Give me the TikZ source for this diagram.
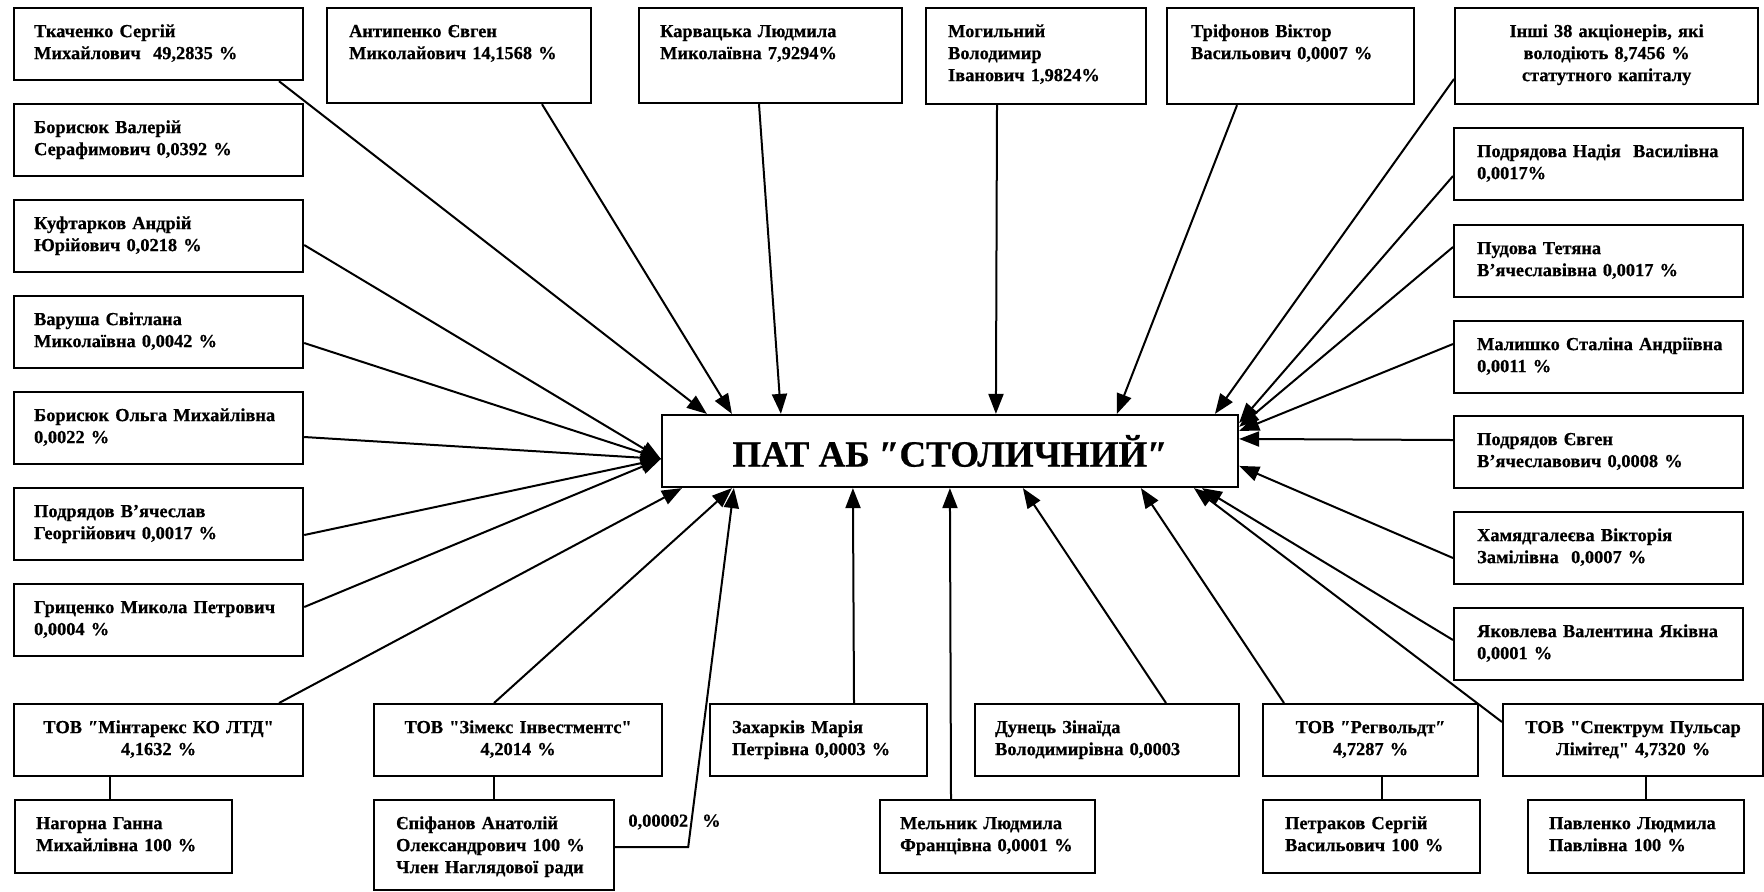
\documentclass[tikz,border=0pt]{standalone}
\usepackage{fontspec}
\setmainfont{Liberation Serif}[Ligatures=TeXOff, BoldFeatures={FakeBold=0.6}]
\usetikzlibrary{arrows.meta,calc}
\tikzset{
  bx/.style={draw, line width=1.1pt, inner xsep=0pt, inner ysep=0pt, anchor=north west,
    font=\bfseries\fontsize{9.2pt}{11pt}\selectfont},
  arr/.style={line width=1pt, -{Triangle[length=10pt,width=7.5pt]}},
  ln/.style={line width=1pt}
}
\newcommand\mybox[8]{%
  \pgfmathsetmacro\mbW{#4/2}%
  \pgfmathsetmacro\mbT{(#4-2*#6)/2}%
  \pgfmathsetmacro\mbD{(#5-29)/2}%
  \node[bx, align=#7, minimum width=\mbW pt, text width=\mbT pt, text height=14.5pt, text depth=\mbD pt] (#1) at (#2,#3) {#8};}
\begin{document}
\begin{tikzpicture}[x=0.5pt,y=-0.5pt]
\useasboundingbox (0,0) rectangle (1764,891);
\fill[white] (0,0) rectangle (1764,891);
% left column
\mybox{tk}{13}{7}{289}{72}{20}{left}{Ткаченко~Сергій\\Михайлович~~49,2835~\%}
\mybox{bv}{13}{103}{289}{72}{20}{left}{Борисюк~Валерій\\Серафимович~0,0392~\%}
\mybox{ku}{13}{199}{289}{72}{20}{left}{Куфтарков~Андрій\\Юрійович~0,0218~\%}
\mybox{va}{13}{295}{289}{72}{20}{left}{Варуша~Світлана\\Миколаївна~0,0042~\%}
\mybox{bo}{13}{391}{289}{72}{20}{left}{Борисюк~Ольга~Михайлівна\\0,0022~\%}
\mybox{pv}{13}{487}{289}{72}{20}{left}{Подрядов~В’ячеслав\\Георгійович~0,0017~\%}
\mybox{gr}{13}{583}{289}{72}{20}{left}{Гриценко~Микола~Петрович\\0,0004~\%}
% top row
\mybox{an}{326}{7}{264}{95}{22}{left}{Антипенко~Євген\\Миколайович~14,1568~\%}
\mybox{ka}{638}{7}{263}{95}{21}{left}{Карвацька~Людмила\\Миколаївна~7,9294\%}
\mybox{mo}{925}{7}{220}{96}{22}{left}{Могильний\\Володимир\\Іванович~1,9824\%}
\mybox{tr}{1166}{7}{247}{96}{24}{left}{Тріфонов~Віктор\\Васильович~0,0007~\%}
\mybox{in}{1454}{7}{303}{96}{8}{center}{Інші~38~акціонерів,~які\\володіють~8,7456~\%\\статутного~капіталу}
% right column
\mybox{pn}{1453}{127}{289}{72}{23}{left}{Подрядова~Надія~~Василівна\\0,0017\%}
\mybox{pu}{1453}{224}{289}{72}{23}{left}{Пудова~Тетяна\\В’ячеславівна~0,0017~\%}
\mybox{ma}{1453}{320}{289}{72}{23}{left}{Малишко~Сталіна~Андріївна\\0,0011~\%}
\mybox{pj}{1453}{415}{289}{72}{23}{left}{Подрядов~Євген\\В’ячеславович~0,0008~\%}
\mybox{ha}{1453}{511}{289}{72}{23}{left}{Хамядгалеєва~Вікторія\\Замілівна~~0,0007~\%}
\mybox{ya}{1453}{607}{289}{72}{23}{left}{Яковлева~Валентина~Яківна\\0,0001~\%}
% bottom row
\mybox{mi}{13}{703}{289}{72}{8}{center}{ТОВ~″Мінтарекс~КО~ЛТД"\\4,1632~\%}
\mybox{zi}{373}{703}{288}{72}{8}{center}{ТОВ~"Зімекс~Інвестментс"\\4,2014~\%}
\mybox{za}{709}{703}{217}{72}{22}{left}{Захарків~Марія\\Петрівна~0,0003~\%}
\mybox{du}{974}{703}{264}{72}{20}{left}{Дунець~Зінаїда\\Володимирівна~0,0003}
\mybox{re}{1262}{703}{215}{72}{8}{center}{ТОВ~″Регвольдт″\\4,7287~\%}
\mybox{sp}{1502}{703}{260}{72}{8}{center}{ТОВ~"Спектрум~Пульсар\\Лімітед"~4,7320~\%}
% second bottom row
\mybox{na}{14}{799}{217}{73}{21}{left}{Нагорна~Ганна\\Михайлівна~100~\%}
\mybox{ep}{373}{799}{240}{90}{22}{left}{Єпіфанов~Анатолій\\Олександрович~100~\%\\Член~Наглядової~ради}
\mybox{me}{879}{799}{215}{73}{20}{left}{Мельник~Людмила\\Францівна~0,0001~\%}
\mybox{pe}{1262}{799}{217}{73}{22}{left}{Петраков~Сергій\\Васильович~100~\%}
\mybox{pa}{1527}{799}{216}{73}{21}{left}{Павленко~Людмила\\Павлівна~100~\%}
% centre
\node[draw, line width=1.1pt, minimum width=288pt, minimum height=36pt, inner sep=0pt,
  font=\bfseries\fontsize{18.5pt}{20pt}\selectfont] (cn) at (950,451) {ПАТ АБ ″СТОЛИЧНИЙ″};
\node[anchor=west, inner sep=0pt, font=\bfseries\fontsize{9.2pt}{11pt}\selectfont] (lbl) at (628,822) {0,00002\hspace{7pt}\%};
% top connectors
\draw[arr] ($(tk.south west)+(266,0)$) -- ($(cn.north west)+(46,0)$);
\draw[arr] ($(an.south west)+(216,0)$) -- ($(cn.north west)+(71,0)$);
\draw[arr] ($(ka.south west)+(121,0)$) -- ($(cn.north west)+(120,0)$);
\draw[arr] ($(mo.south west)+(72,0)$) -- ($(cn.north west)+(335,0)$);
\draw[arr] ($(tr.south west)+(71,0)$) -- ($(cn.north west)+(456,0)$);
\draw[arr] ($(in.north west)+(0,72)$) -- ($(cn.north west)+(554,0)$);
% right connectors
\draw[arr] ($(pn.north west)+(0,49)$) -- ($(cn.north east)+(0,9)$);
\draw[arr] ($(pu.north west)+(0,23)$) -- ($(cn.north east)+(0,13)$);
\draw[arr] ($(ma.north west)+(0,24)$) -- ($(cn.north east)+(0,17)$);
\draw[arr] ($(pj.north west)+(0,25)$) -- ($(cn.north east)+(0,25)$);
\draw[arr] ($(ha.north west)+(0,47)$) -- ($(cn.north east)+(0,52)$);
\draw[arr] ($(ya.north west)+(0,33)$) -- ($(cn.south west)+(541,0)$);
% bottom connectors
\draw[arr] ($(sp.north west)+(0,19)$) -- ($(cn.south west)+(533,0)$);
\draw[arr] ($(re.north west)+(22,0)$) -- ($(cn.south west)+(480,0)$);
\draw[arr] ($(du.north west)+(192,0)$) -- ($(cn.south west)+(362,0)$);
\draw[arr] ($(me.north west)+(72,0)$) -- ($(cn.south west)+(289,0)$);
\draw[arr] ($(za.north west)+(145,0)$) -- ($(cn.south west)+(192,0)$);
\draw[arr] ($(ep.north east)+(0,48)$) -- ++(73,0) -- ($(cn.south west)+(73,0)$);
\draw[arr] ($(zi.north west)+(121,0)$) -- ($(cn.south west)+(71,0)$);
\draw[arr] ($(mi.north west)+(266,0)$) -- ($(cn.south west)+(21,0)$);
% left connectors
\draw[arr] ($(ku.north east)+(0,46)$) -- ($(cn.north west)+(0,45)$);
\draw[arr] ($(va.north east)+(0,48)$) -- ($(cn.north west)+(0,45)$);
\draw[arr] ($(bo.north east)+(0,46)$) -- ($(cn.north west)+(0,45)$);
\draw[arr] ($(pv.north east)+(0,48)$) -- ($(cn.north west)+(0,45)$);
\draw[arr] ($(gr.north east)+(0,24)$) -- ($(cn.north west)+(0,45)$);
% ownership links
\draw[ln] ($(mi.south west)+(97,0)$) -- ($(na.north west)+(96,0)$);
\draw[ln] ($(zi.south west)+(121,0)$) -- ($(ep.north west)+(121,0)$);
\draw[ln] ($(re.south west)+(120,0)$) -- ($(pe.north west)+(120,0)$);
\draw[ln] ($(sp.south west)+(144,0)$) -- ($(pa.north west)+(119,0)$);
\end{tikzpicture}
\end{document}
